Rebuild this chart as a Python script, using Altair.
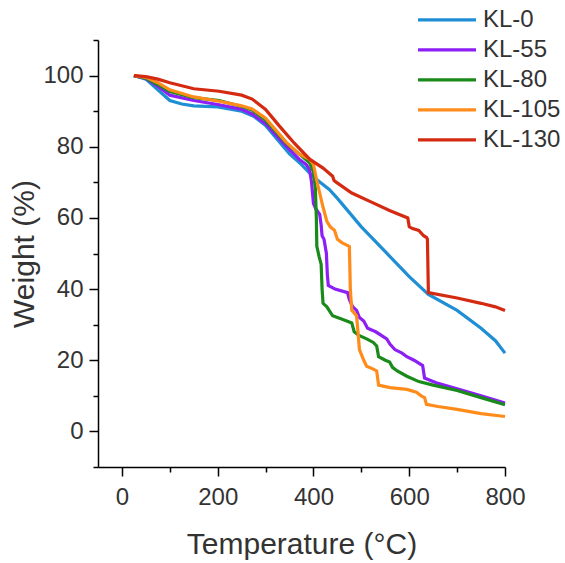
import altair as alt
import pandas as pd

series = ["KL-0", "KL-55", "KL-80", "KL-105", "KL-130"]
colors = ["#1f8ed4", "#8c1ff5", "#1a8a1a", "#ff8c1a", "#d52a12"]

t_kl0 = [25, 50, 75, 100, 125, 150, 200, 250, 275, 300, 325, 350, 375, 400, 433, 450, 500, 550, 600, 640, 700, 750, 780, 800]
w_kl0 = [100, 99, 96, 93, 92, 91.5, 91.2, 90, 88.6, 86, 82, 78, 75, 71.5, 68, 65.5, 57.5, 50.5, 43.5, 38.5, 34, 29, 25.5, 22]

t_kl55 = [25, 50, 75, 100, 150, 203, 250, 272, 300, 343, 370, 385, 392, 396, 400, 405, 413, 416, 418, 422, 427, 429, 431, 445, 471, 475, 482, 490, 496, 505, 513, 530, 553, 560, 570, 585, 595, 610, 628, 632, 660, 700, 750, 800]
w_kl55 = [100, 99.2, 97, 94.5, 93, 91.8, 90.5, 89.2, 86.5, 80.2, 76.5, 75, 73.5, 70, 64, 62.5, 61, 58, 55, 54, 50, 44, 41, 40, 39, 37, 35, 34, 32, 31, 29, 28, 26, 24.5, 23, 22, 21, 20, 18.5, 15, 13.5, 12, 10, 8]

t_kl80 = [25, 50, 75, 100, 150, 203, 250, 272, 300, 343, 370, 392, 400, 404, 406, 407, 412, 416, 418, 420, 428, 440, 460, 480, 485, 495, 511, 525, 532, 536, 550, 559, 565, 575, 595, 620, 650, 700, 750, 800]
w_kl80 = [100, 99.3, 97.5, 95.5, 93.8, 93, 91.3, 90.3, 87.5, 81, 78, 75.5, 73, 68, 60, 52, 49, 47, 40, 36, 35, 32.5, 31.5, 30.5, 28, 27, 26, 25, 24, 21, 20, 19.5, 18, 17, 15.5, 14, 13, 11.5, 9.5, 7.5]

t_kl105 = [25, 50, 75, 100, 150, 203, 250, 272, 300, 343, 370, 392, 400, 406, 413, 420, 428, 435, 444, 450, 460, 475, 477, 480, 490, 493, 496, 505, 511, 525, 532, 536, 560, 595, 615, 625, 632, 636, 660, 700, 750, 800]
w_kl105 = [100, 99.5, 98, 96, 94, 92.8, 91.5, 90.6, 88, 81.3, 78, 76.5, 75, 71, 67, 63, 59, 57.5, 56.5, 54, 53, 52, 40, 34, 32.5, 28, 23, 20, 18.3, 17.5, 17, 13, 12.3, 11.8, 11, 10, 9.5, 7.6, 7, 6.2, 5, 4.2]

t_kl130 = [25, 50, 75, 100, 150, 203, 250, 272, 300, 329, 360, 392, 420, 440, 443, 448, 480, 520, 560, 597, 600, 607, 620, 630, 636, 638, 640, 700, 750, 780, 800]
w_kl130 = [100, 99.7, 99, 98, 96.3, 95.6, 94.5, 93.4, 90.5, 85.8, 81, 76.5, 74, 71.7, 70.5, 70, 67, 64.5, 62, 60, 57.5, 57, 56.5, 55, 54.5, 54, 39, 37.5, 36, 35, 34]

x_ticks = [0, 100, 200, 300, 400, 500, 600, 700, 800]
y_ticks = [-10, 0, 10, 20, 30, 40, 50, 60, 70, 80, 90, 100, 110]

rows = []
for name, ts, ws in zip(series, [t_kl0, t_kl55, t_kl80, t_kl105, t_kl130],
                        [w_kl0, w_kl55, w_kl80, w_kl105, w_kl130]):
    for i, (t, w) in enumerate(zip(ts, ws)):
        rows.append({"series": name, "T": t, "W": w, "idx": i})
df = pd.DataFrame(rows)

FONT = "Liberation Sans"

x_axis = alt.Axis(
    values=x_ticks,
    title="Temperature (°C)",
    labelExpr="datum.value % 200 === 0 ? datum.label : ''",
    tickSize={"condition": {"test": "datum.value % 200 === 0", "value": 9}, "value": 5},
    grid=False, domainColor="black", domainWidth=1.5, tickColor="black", tickWidth=1.5,
    labelFont=FONT, labelFontSize=24, labelColor="#333333", labelPadding=9,
    titleFont=FONT, titleFontSize=30, titleFontWeight="normal", titleColor="#333333",
    titlePadding=20, labelFlush=False, labelOverlap=False,
)
y_axis = alt.Axis(
    values=y_ticks,
    title="Weight (%)",
    labelExpr="datum.value % 20 === 0 ? datum.label : ''",
    tickSize={"condition": {"test": "datum.value % 20 === 0", "value": 9}, "value": 5},
    grid=False, domainColor="black", domainWidth=1.5, tickColor="black", tickWidth=1.5,
    labelFont=FONT, labelFontSize=24, labelColor="#333333", labelPadding=6,
    titleFont=FONT, titleFontSize=30, titleFontWeight="normal", titleColor="#333333",
    titlePadding=3, labelFlush=False, labelOverlap=False,
)

chart = alt.Chart(df).mark_line(strokeWidth=3.2).encode(
    x=alt.X("T:Q", scale=alt.Scale(domain=[-50, 800], nice=False, zero=False), axis=x_axis),
    y=alt.Y("W:Q", scale=alt.Scale(domain=[-10, 110], nice=False, zero=False), axis=y_axis),
    color=alt.Color(
        "series:N",
        scale=alt.Scale(domain=series, range=colors),
        sort=series,
        legend=alt.Legend(
            orient="none", legendX=318, legendY=-35, title=None,
            symbolType="stroke", symbolSize=3364, symbolStrokeWidth=3.2,
            clipHeight=29.8, rowPadding=0, padding=0,
            labelFont=FONT, labelFontSize=24, labelColor="#333333", labelOffset=5,
        ),
    ),
    order=alt.Order("idx:Q"),
).properties(
    width=407, height=427,
    autosize=alt.AutoSizeParams(type="none"),
    padding={"left": 98, "top": 40, "right": 60, "bottom": 96},
).configure_view(stroke=None)

chart.save("out.html", embed_options={"renderer": "svg", "actions": False})
